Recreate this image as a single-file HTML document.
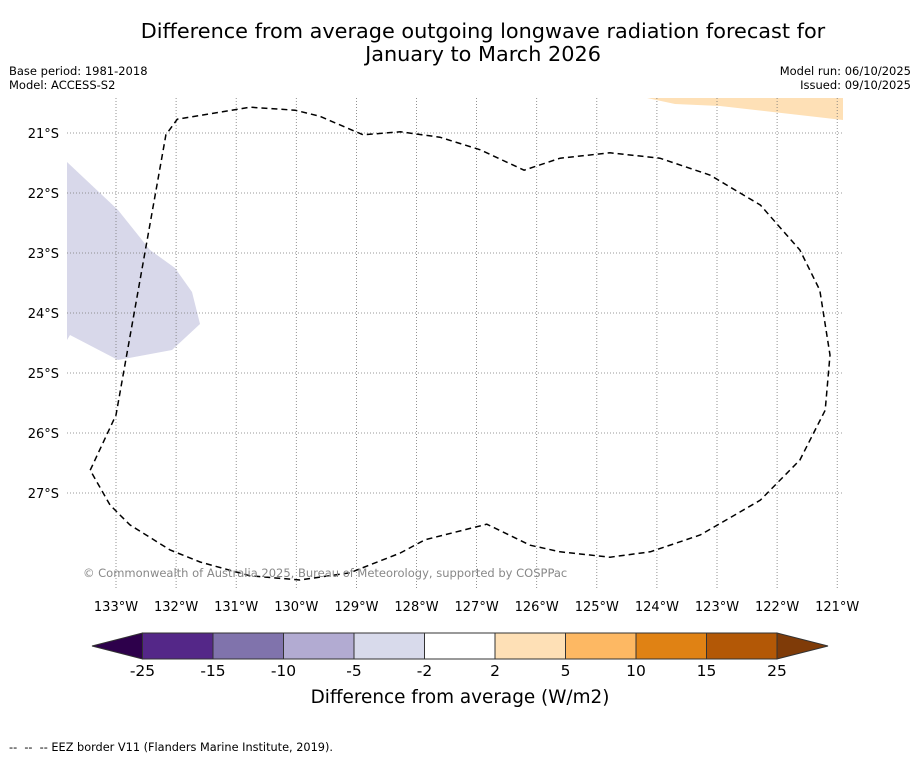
<!DOCTYPE html>
<html><head><meta charset="utf-8"><style>
body{margin:0;background:#fff;width:919px;height:758px;overflow:hidden;font-family:"DejaVu Sans","Liberation Sans",sans-serif}
</style></head><body>
<svg id="s" width="919" height="758" xmlns="http://www.w3.org/2000/svg" style="font-family:'DejaVu Sans','Liberation Sans',sans-serif">
<text x="483" y="38" text-anchor="middle" font-size="20.8">Difference from average outgoing longwave radiation forecast for</text>
<text x="483" y="61" text-anchor="middle" font-size="20.8">January to March 2026</text>
<text x="9" y="75" font-size="11.5">Base period: 1981-2018</text>
<text x="9" y="89" font-size="11.5">Model: ACCESS-S2</text>
<text x="911" y="75" font-size="11.5" text-anchor="end">Model run: 06/10/2025</text>
<text x="911" y="89" font-size="11.5" text-anchor="end">Issued: 09/10/2025</text>
<g id="map">
<polygon points="67,162 118,210 150,250 175,268 192,292 200,324 172,350 118,360 70,335 67,340" fill="#d8d8ea"/>
<polygon points="647,98 675,104 720,106 843,120 843,98" fill="#fee0b6"/>
<g id="grid"></g>
<path id="eez" fill="none" stroke="#000" stroke-width="1.5" stroke-dasharray="6,4"/>
</g>
<text x="83" y="577" font-size="11.5" fill="#888">© Commonwealth of Australia 2025, Bureau of Meteorology, supported by COSPPac</text>
<g id="cbar"></g>
<text x="460" y="703" text-anchor="middle" font-size="18.4">Difference from average (W/m2)</text>
<text x="9" y="751" font-size="11.3" xml:space="preserve">--  --  -- EEZ border V11 (Flanders Marine Institute, 2019).</text>
</svg>
<script>
const lonTicks=[-133,-132,-131,-130,-129,-128,-127,-126,-125,-124,-123,-122,-121];
const latTicks=[-21,-22,-23,-24,-25,-26,-27];
const eezLon=[-133.43,-133.0,-132.17,-131.98,-130.77,-130.02,-129.61,-128.89,-128.27,-127.61,-126.94,-126.21,-125.61,-124.78,-123.95,-123.12,-122.28,-121.62,-121.29,-121.12,-121.2,-121.62,-122.28,-123.28,-124.11,-124.78,-125.61,-126.11,-126.83,-127.86,-128.27,-129.11,-129.94,-130.77,-131.6,-132.1,-132.77,-133.1];
const eezLat=[-26.62,-25.7,-21.03,-20.77,-20.57,-20.62,-20.72,-21.03,-20.98,-21.07,-21.28,-21.62,-21.42,-21.33,-21.42,-21.7,-22.2,-22.95,-23.62,-24.7,-25.62,-26.45,-27.12,-27.7,-27.98,-28.07,-27.98,-27.87,-27.52,-27.78,-28.0,-28.33,-28.45,-28.38,-28.15,-27.95,-27.53,-27.2];
const cbLevels=[-25,-15,-10,-5,-2,2,5,10,15,25];
const cbColors=["#542788","#8073ac","#b2abd2","#d8daeb","#ffffff","#fee0b6","#fdb863","#e08214","#b35806"];
const cbUnder="#2d004b", cbOver="#7f3b08";
const NS="http://www.w3.org/2000/svg";
const X=lon=>116+(lon+133)*60.1, Y=lat=>133+(-21-lat)*60;
function mk(t,a,p){const e=document.createElementNS(NS,t);for(const k in a)e.setAttribute(k,a[k]);p.appendChild(e);return e;}
const g=document.getElementById('grid'), s=document.getElementById('s');
lonTicks.forEach(l=>{
 const e=mk('line',{x1:X(l),x2:X(l),y1:98,y2:590,stroke:'#777','stroke-width':0.8,'stroke-dasharray':'1,2'},g);
 
 
 const t=mk('text',{x:X(l),y:611,'text-anchor':'middle','font-size':13},s);
 t.textContent=(-l)+'°W';
 
 
});
latTicks.forEach(l=>{
 const e=mk('line',{x1:67,x2:843,y1:Y(l),y2:Y(l),stroke:'#777','stroke-width':0.8,'stroke-dasharray':'1,2'},g);
 
 
 const t=mk('text',{x:59,y:Y(l)+5,'text-anchor':'end','font-size':13},s);
 t.textContent=(-l)+'°S';
 
 
});
document.getElementById('eez').setAttribute('d',eezLon.map((l,i)=>(i?'L':'M')+X(l).toFixed(1)+','+Y(eezLat[i]).toFixed(1)).join('')+'Z');
const cb=document.getElementById('cbar');
const n=cbLevels.length-1, x0=142.5, x1=777, w=(x1-x0)/n, yT=633, yB=659;
const u=mk('polygon',{points:`${x0},${yT} 92,${(yT+yB)/2} ${x0},${yB}`,fill:cbUnder,stroke:'#333'},cb);


const o=mk('polygon',{points:`${x1},${yT} 828,${(yT+yB)/2} ${x1},${yB}`,fill:cbOver,stroke:'#333'},cb);


cbColors.forEach((c,i)=>{
 const r=mk('rect',{x:x0+i*w,y:yT,width:w,height:yB-yT,fill:c,stroke:'#333','stroke-width':1},cb);
 
 
});
cbLevels.forEach((v,i)=>{
 const t=mk('text',{x:x0+i*w,y:676,'text-anchor':'middle','font-size':15.5},cb);
 t.textContent=v;
 
 
});
</script>
</body></html>
